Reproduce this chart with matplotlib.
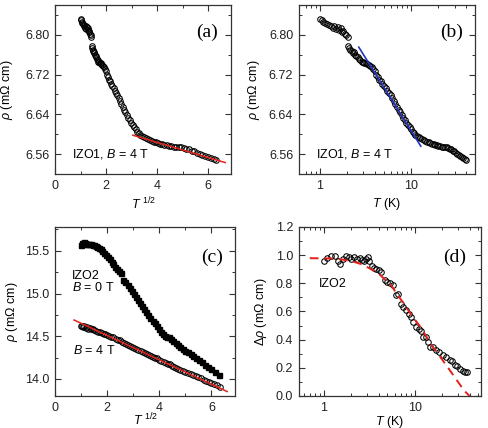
import numpy as np
import matplotlib
matplotlib.use("Agg")
import matplotlib.pyplot as plt
from matplotlib.ticker import MultipleLocator, LogLocator, NullFormatter, FormatStrFormatter

plt.rcParams["font.family"] = ["Liberation Sans", "DejaVu Sans"]
plt.rcParams["mathtext.fontset"] = "custom"
plt.rcParams["mathtext.rm"] = "Liberation Sans"
plt.rcParams["mathtext.it"] = "Liberation Sans:italic"
plt.rcParams["mathtext.bf"] = "Liberation Sans:bold"

# IZO1, B = 4 T : temperature (K) and resistivity (mOhm cm)
izo1_T = [1.00, 1.05, 1.10, 1.15, 1.21, 1.27, 1.33, 1.39, 1.45, 1.51, 1.57, 1.63, 1.69,
          1.75, 1.82, 1.88, 1.95, 2.02, 2.06, 2.11, 2.17, 2.23, 2.30, 2.37, 2.44, 2.52,
          2.60, 2.69, 2.78, 2.88, 2.98, 3.09, 3.20, 3.32, 3.45, 3.58, 3.72, 3.86, 4.01,
          4.17, 4.33, 4.50, 4.68, 4.87, 5.07, 5.28, 5.50, 5.73, 5.97, 6.22, 6.48, 6.75,
          7.03, 7.32, 7.62, 7.93, 8.25, 8.58, 8.92, 9.27, 9.63, 10.0, 10.4, 10.8, 11.2,
          11.7, 12.2, 12.7, 13.2, 13.8, 14.4, 15.0, 15.6, 16.3, 17.0, 17.7, 18.4, 19.2,
          20.0, 20.8, 21.7, 22.6, 23.5, 24.5, 25.5, 26.5, 27.6, 28.7, 29.8, 31.0, 32.2,
          33.4, 34.7, 36.0, 37.3, 38.6, 39.9]
izo1_rho = [6.831, 6.829, 6.826, 6.824, 6.822, 6.820, 6.817, 6.814, 6.817, 6.812, 6.815,
            6.810, 6.813, 6.806, 6.808, 6.802, 6.799, 6.796, 6.778, 6.774, 6.770, 6.767,
            6.763, 6.766, 6.760, 6.757, 6.755, 6.751, 6.749, 6.746, 6.745, 6.743, 6.744,
            6.741, 6.740, 6.738, 6.735, 6.731, 6.727, 6.720, 6.715, 6.710, 6.706, 6.701,
            6.696, 6.692, 6.686, 6.682, 6.678, 6.672, 6.666, 6.660, 6.655, 6.649, 6.644,
            6.638, 6.633, 6.628, 6.623, 6.619, 6.615, 6.611, 6.605, 6.602, 6.599, 6.596,
            6.594, 6.592, 6.590, 6.588, 6.587, 6.585, 6.584, 6.583, 6.581, 6.580, 6.579,
            6.578, 6.577, 6.577, 6.575, 6.574, 6.574, 6.575, 6.573, 6.571, 6.570, 6.567,
            6.566, 6.563, 6.561, 6.559, 6.557, 6.555, 6.553, 6.550, 6.548]

# fits for IZO1
fit_a_x = [3.05, 6.67]
fit_a_y = [6.598, 6.543]
fit_b_T = [2.68, 12.8]
fit_b_y = [6.775, 6.576]

# IZO2, sqrt(T) and resistivity
izo2_b0_x = [1.00, 1.05, 1.10, 1.15, 1.20, 1.26, 1.32, 1.38, 1.44, 1.50, 1.56, 1.62, 1.68,
             1.75, 1.82, 1.89, 1.96, 2.03, 2.10, 2.17, 2.24, 2.31, 2.38, 2.45, 2.52, 2.62,
             2.70, 2.78, 2.86, 2.94, 3.02, 3.10, 3.18, 3.26, 3.34, 3.42, 3.50, 3.58, 3.66,
             3.74, 3.82, 3.90, 3.98, 4.06, 4.14, 4.22, 4.30, 4.38, 4.46, 4.54, 4.62, 4.70,
             4.80, 4.90, 5.00, 5.10, 5.20, 5.30, 5.40, 5.52, 5.64, 5.76, 5.88, 6.00, 6.13,
             6.30]
izo2_b0_rho = [15.57, 15.59, 15.60, 15.59, 15.58, 15.585, 15.58, 15.575, 15.57, 15.565,
               15.56, 15.55, 15.535, 15.52, 15.50, 15.48, 15.455, 15.43, 15.405, 15.375,
               15.345, 15.315, 15.29, 15.26, 15.235, 15.16, 15.13, 15.095, 15.06, 15.03,
               14.995, 14.96, 14.925, 14.89, 14.85, 14.815, 14.78, 14.745, 14.71, 14.68,
               14.65, 14.62, 14.585, 14.555, 14.525, 14.505, 14.49, 14.485, 14.47, 14.44,
               14.42, 14.395, 14.37, 14.35, 14.33, 14.31, 14.29, 14.265, 14.245, 14.22,
               14.195, 14.165, 14.14, 14.115, 14.085, 14.05]

izo2_b4_x = [1.00, 1.04, 1.08, 1.12, 1.17, 1.22, 1.27, 1.33, 1.39, 1.45, 1.51, 1.58, 1.65,
             1.72, 1.79, 1.86, 1.93, 2.00, 2.08, 2.16, 2.24, 2.32, 2.40, 2.48, 2.56, 2.64,
             2.72, 2.80, 2.88, 2.96, 3.04, 3.12, 3.20, 3.28, 3.36, 3.44, 3.52, 3.60, 3.68,
             3.76, 3.84, 3.92, 4.00, 4.08, 4.16, 4.24, 4.32, 4.40, 4.48, 4.56, 4.64, 4.72,
             4.80, 4.90, 5.00, 5.10, 5.20, 5.30, 5.40, 5.50, 5.60, 5.70, 5.80, 5.90, 6.00,
             6.10, 6.20, 6.32]
izo2_b4_rho = [14.615, 14.62, 14.61, 14.615, 14.60, 14.605, 14.59, 14.595, 14.58, 14.585,
               14.57, 14.56, 14.555, 14.545, 14.54, 14.53, 14.525, 14.515, 14.505, 14.49,
               14.485, 14.47, 14.46, 14.45, 14.435, 14.425, 14.41, 14.40, 14.39, 14.375,
               14.365, 14.35, 14.34, 14.33, 14.315, 14.305, 14.295, 14.28, 14.27, 14.26,
               14.25, 14.24, 14.225, 14.215, 14.20, 14.19, 14.18, 14.17, 14.155, 14.145,
               14.13, 14.12, 14.11, 14.095, 14.085, 14.07, 14.055, 14.045, 14.03, 14.02,
               14.005, 13.99, 13.98, 13.965, 13.955, 13.94, 13.925, 13.91]
fit_c_x = [0.73, 6.60]
fit_c_y = [14.690, 13.852]

# IZO2 magnetoresistance
d_T = [1.00, 1.09, 1.21, 1.32, 1.44, 1.49, 1.63, 1.77, 1.89, 2.00, 2.14, 2.32, 2.50, 2.62,
       2.75, 2.90, 3.04, 3.15, 3.39, 3.58, 3.75, 4.02, 4.30, 4.68, 4.96, 5.35, 5.77, 6.23,
       6.60, 7.10, 7.45, 7.97, 8.66, 9.10, 9.59, 10.2, 11.0, 11.8, 12.2, 13.4, 14.0, 14.6,
       15.8, 17.3, 18.5, 20.5, 22.0, 24.2, 25.5, 27.5, 29.0, 31.2, 33.5, 35.5, 37.5]
d_drho = [0.955, 0.978, 0.994, 0.994, 0.961, 0.937, 0.970, 0.994, 0.990, 0.975, 0.985,
          0.970, 0.978, 0.968, 0.961, 0.972, 0.990, 0.960, 0.920, 0.905, 0.904, 0.895,
          0.882, 0.826, 0.809, 0.800, 0.789, 0.715, 0.725, 0.653, 0.634, 0.611, 0.582,
          0.560, 0.528, 0.488, 0.475, 0.463, 0.417, 0.417, 0.380, 0.350, 0.345, 0.327,
          0.310, 0.291, 0.275, 0.256, 0.245, 0.220, 0.210, 0.190, 0.178, 0.172, 0.170]
model_d_T = [0.70, 1.0, 1.3, 1.6, 2.0, 2.6, 3.2, 4.0, 4.8, 5.5, 6.5, 7.5, 9.3, 11.7, 15.0,
             19.5, 25.5, 31.0, 35.0, 40.0]
model_d_y = [0.978, 0.977, 0.975, 0.968, 0.958, 0.935, 0.905, 0.870, 0.820, 0.785, 0.715,
             0.660, 0.570, 0.485, 0.368, 0.268, 0.163, 0.085, 0.037, 0.0]

RED = "#e3211c"
BLUE = "#2233bb"
FRAME = "#333333"
circ = dict(ls="none", marker="o", ms=4.0, mfc="none", mec="black", mew=0.75)


def style(ax):
    for s in ax.spines.values():
        s.set_color(FRAME)
        s.set_linewidth(0.9)
    ax.tick_params(which="both", direction="in", top=True, right=True,
                   colors=FRAME, labelsize=9, labelcolor="#222222")
    ax.tick_params(which="major", length=4, width=0.8, pad=4)
    ax.tick_params(which="minor", length=2.5, width=0.7)


def letter(ax, s, x, y):
    ax.text(x, y, s, transform=ax.transAxes, fontsize=14, ha="center", va="center",
            family="Liberation Serif")


fig = plt.figure(figsize=(4.89, 4.28), dpi=100)
ax_a = fig.add_axes([0.1125, 0.5935, 0.36, 0.395])
ax_b = fig.add_axes([0.611, 0.5935, 0.36, 0.395])
ax_c = fig.add_axes([0.1125, 0.0748, 0.368, 0.395])
ax_d = fig.add_axes([0.611, 0.0748, 0.372, 0.395])

rho_label = r"$\rho$ (m$\Omega$ cm)"

# (a)
ax_a.plot(np.sqrt(izo1_T), izo1_rho, **circ)
ax_a.plot(fit_a_x, fit_a_y, color=RED, lw=1.1)
ax_a.set_xlim(0, 6.9)
ax_a.set_ylim(6.52, 6.86)
ax_a.xaxis.set_major_locator(MultipleLocator(2))
ax_a.xaxis.set_minor_locator(MultipleLocator(1))
ax_a.yaxis.set_major_locator(MultipleLocator(0.08))
ax_a.yaxis.set_minor_locator(MultipleLocator(0.04))
ax_a.yaxis.set_major_formatter(FormatStrFormatter("%.2f"))
ax_a.set_ylabel(rho_label, fontsize=9)
ax_a.set_xlabel(r"$T$ $^{1/2}$", fontsize=9, labelpad=3)
ax_a.text(0.097, 0.118, r"IZO1, $B$ = 4 T", transform=ax_a.transAxes, fontsize=9,
          va="center")
letter(ax_a, "(a)", 0.864, 0.84)
style(ax_a)

# (b)
ax_b.plot(izo1_T, izo1_rho, **circ)
ax_b.plot(fit_b_T, fit_b_y, color=BLUE, lw=1.2)
ax_b.set_xscale("log")
ax_b.set_xlim(0.59, 50)
ax_b.set_ylim(6.52, 6.86)
ax_b.xaxis.set_major_locator(LogLocator(base=10))
ax_b.xaxis.set_minor_locator(LogLocator(base=10, subs=np.arange(2, 10)))
ax_b.xaxis.set_minor_formatter(NullFormatter())
ax_b.xaxis.set_major_formatter(FormatStrFormatter("%g"))
ax_b.yaxis.set_major_locator(MultipleLocator(0.08))
ax_b.yaxis.set_minor_locator(MultipleLocator(0.04))
ax_b.yaxis.set_major_formatter(FormatStrFormatter("%.2f"))
ax_b.set_ylabel(rho_label, fontsize=9)
ax_b.set_xlabel(r"$T$ (K)", fontsize=9, labelpad=3)
ax_b.text(0.095, 0.118, r"IZO1, $B$ = 4 T", transform=ax_b.transAxes, fontsize=9,
          va="center")
letter(ax_b, "(b)", 0.869, 0.84)
style(ax_b)

# (c)
ax_c.plot(izo2_b0_x, izo2_b0_rho, ls="none", marker="s", ms=3.6, color="black")
ax_c.plot(izo2_b4_x, izo2_b4_rho, **circ)
ax_c.plot(fit_c_x, fit_c_y, color=RED, lw=1.1)
ax_c.set_xlim(0, 6.9)
ax_c.set_ylim(13.8, 15.78)
ax_c.xaxis.set_major_locator(MultipleLocator(2))
ax_c.xaxis.set_minor_locator(MultipleLocator(1))
ax_c.yaxis.set_major_locator(MultipleLocator(0.5))
ax_c.yaxis.set_minor_locator(MultipleLocator(0.25))
ax_c.yaxis.set_major_formatter(FormatStrFormatter("%.1f"))
ax_c.set_ylabel(rho_label, fontsize=9)
ax_c.set_xlabel(r"$T$ $^{1/2}$", fontsize=9, labelpad=-1)
ax_c.text(0.094, 0.712, "IZO2", transform=ax_c.transAxes, fontsize=9, va="center")
ax_c.text(0.094, 0.639, r"$B$ = 0 T", transform=ax_c.transAxes, fontsize=9, va="center")
ax_c.text(0.10, 0.268, r"$B$ = 4 T", transform=ax_c.transAxes, fontsize=9, va="center")
letter(ax_c, "(c)", 0.872, 0.82)
style(ax_c)

# (d)
ax_d.plot(d_T, d_drho, **circ)
ax_d.plot(model_d_T, model_d_y, color=RED, lw=1.4, dashes=(4.5, 3))
ax_d.set_xscale("log")
ax_d.set_xlim(0.53, 53)
ax_d.set_ylim(0, 1.2)
ax_d.xaxis.set_major_locator(LogLocator(base=10))
ax_d.xaxis.set_minor_locator(LogLocator(base=10, subs=np.arange(2, 10)))
ax_d.xaxis.set_minor_formatter(NullFormatter())
ax_d.xaxis.set_major_formatter(FormatStrFormatter("%g"))
ax_d.yaxis.set_major_locator(MultipleLocator(0.2))
ax_d.yaxis.set_minor_locator(MultipleLocator(0.1))
ax_d.yaxis.set_major_formatter(FormatStrFormatter("%.1f"))
ax_d.set_ylabel(r"$\Delta\rho$ (m$\Omega$ cm)", fontsize=9)
ax_d.set_xlabel(r"$T$ (K)", fontsize=9, labelpad=0)
ax_d.text(0.11, 0.663, "IZO2", transform=ax_d.transAxes, fontsize=9, va="center")
letter(ax_d, "(d)", 0.855, 0.82)
style(ax_d)

ax_a.yaxis.set_label_coords(-40 / 176, 0.5)
ax_b.yaxis.set_label_coords(-37 / 176, 0.5)
ax_c.yaxis.set_label_coords(-35 / 180, 0.5)
ax_d.yaxis.set_label_coords(-30 / 182, 0.5)

fig.savefig("out.png", dpi=100)
